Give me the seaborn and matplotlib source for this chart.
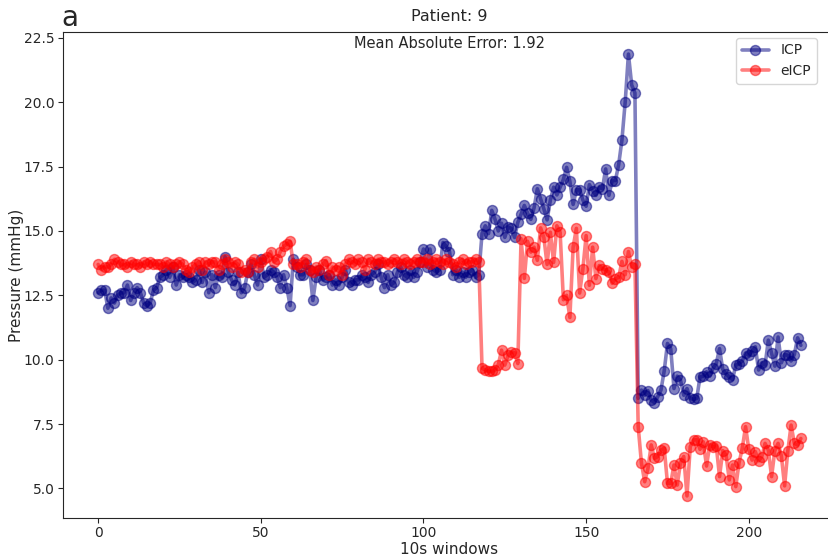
import numpy as np
import pandas as pd
import matplotlib
matplotlib.use("Agg")
import matplotlib.pyplot as plt
import seaborn as sns

# ---- data ----
icp = [
    12.6, 12.7, 12.7, 12.0, 12.4, 12.2, 12.5, 12.6, 12.6, 12.9,
    12.3, 12.6, 12.8, 12.6, 12.2, 12.1, 12.2, 12.7, 12.8, 13.2,
    13.3, 13.5, 13.2, 13.6, 12.9, 13.3, 13.2, 13.3, 13.2, 13.0,
    13.1, 13.5, 13.0, 13.4, 12.6, 13.3, 12.8, 13.3, 13.2, 14.0,
    13.4, 13.1, 12.9, 13.4, 12.6, 12.8, 13.4, 13.7, 13.3, 12.9,
    13.9, 13.2, 13.3, 13.5, 13.4, 13.2, 12.8, 13.3, 12.8, 12.1,
    13.9, 13.6, 13.3, 13.3, 13.7, 13.5, 12.3, 13.2, 13.5, 13.1,
    13.2, 13.3, 12.9, 13.1, 12.9, 13.2, 13.5, 13.0, 12.9, 13.1,
    13.1, 13.3, 13.2, 13.0, 13.3, 13.4, 13.7, 13.2, 12.8, 13.3,
    12.9, 13.0, 13.4, 13.6, 13.3, 13.2, 13.5, 13.2, 13.4, 13.8,
    14.3, 13.6, 14.3, 13.5, 13.4, 13.5, 14.55, 14.4, 14.2, 13.3,
    13.5, 13.2, 13.4, 13.2, 13.4, 13.5, 13.2, 13.3,
    14.9, 15.2, 14.9, 15.8, 15.45, 15.0, 15.3, 14.75, 15.15, 15.1,
    14.75, 15.33, 15.65, 15.99, 15.7, 15.45, 15.9, 16.64, 16.25, 15.86,
    15.43, 16.2, 16.7, 16.4, 16.7, 17.0, 17.47, 16.93, 16.03, 16.6,
    16.6, 16.2, 15.96, 16.8, 16.57, 16.38, 16.7, 16.64, 17.41, 16.38,
    16.96, 16.96, 17.58, 18.53, 20.0, 21.87, 20.67, 20.36,
    8.5, 8.82, 8.62, 8.8, 8.43, 8.33, 8.56, 8.82, 9.57, 10.63,
    10.43, 8.88, 9.36, 9.2, 8.62, 8.88, 8.5, 8.46, 8.5, 9.33,
    9.36, 9.53, 9.36, 9.66, 9.85, 10.43, 9.62, 9.45, 9.33, 9.23,
    9.79, 9.85, 9.95, 10.26, 10.17, 10.33, 10.5, 9.6, 9.88, 9.79,
    10.76, 10.26, 9.75, 10.88, 9.88, 10.2, 10.17, 9.95, 10.2, 10.85,
    10.56,
]

eicp = [
    13.7, 13.5, 13.6, 13.6, 13.7, 13.9, 13.8, 13.7, 13.7, 13.6,
    13.8, 13.7, 13.7, 13.6, 13.8, 13.7, 13.8, 13.7, 13.7, 13.7,
    13.6, 13.8, 13.7, 13.6, 13.7, 13.8, 13.7, 13.5, 13.4, 13.6,
    13.7, 13.8, 13.5, 13.8, 13.7, 13.8, 13.8, 13.5, 13.7, 13.9,
    13.8, 13.6, 13.8, 13.7, 13.4, 13.5, 13.4, 13.8, 13.9, 13.6,
    13.8, 13.9, 14.0, 14.2, 13.8, 13.9, 14.2, 14.4, 14.5, 14.6,
    13.7, 13.7, 13.6, 13.8, 13.9, 13.5, 13.4, 13.6, 13.5, 13.7,
    13.85, 13.3, 13.6, 13.5, 13.6, 13.3, 13.7, 13.9, 13.8, 13.7,
    13.9, 13.8, 13.5, 13.9, 13.8, 13.7, 13.9, 13.8, 13.8, 13.7,
    13.8, 13.9, 13.8, 13.7, 13.9, 13.8, 13.7, 13.8, 13.9, 13.8,
    13.8, 13.9, 13.7, 13.8, 13.9, 13.8, 13.7, 13.9, 13.8, 13.7,
    13.6, 13.8, 13.9, 13.7, 13.8, 13.8, 13.9, 13.8,
    9.67, 9.6, 9.55, 9.55, 9.6, 9.8, 10.37, 9.79, 10.17, 10.3,
    10.27, 9.85, 14.7, 13.16, 14.6, 14.18, 14.37, 13.86, 15.12, 14.75,
    13.7, 14.95, 13.78, 15.2, 14.95, 12.33, 12.5, 11.64, 14.37, 15.1,
    12.59, 13.53, 14.82, 12.89, 14.37, 13.15, 13.66, 13.53, 13.5, 13.4,
    12.97, 13.15, 13.2, 13.82, 13.3, 14.2, 13.6, 13.7,
    7.4, 5.98, 5.26, 5.78, 6.69, 6.17, 6.24, 6.49, 6.56, 5.2,
    5.2, 5.91, 5.13, 6.0, 6.24, 4.71, 6.62, 6.88, 6.9, 6.52,
    6.81, 5.87, 6.69, 6.62, 6.65, 5.46, 6.47, 6.3, 5.33, 5.91,
    5.07, 6.0, 6.56, 7.4, 6.52, 6.1, 6.43, 6.07, 6.24, 6.75,
    6.49, 5.46, 6.47, 6.75, 6.27, 5.1, 6.47, 7.46, 6.75, 6.69,
    6.94,
]

windows = list(range(len(icp)))

title = "Patient: 9"
mae_text = "Mean Absolute Error: 1.92"
panel_label = "a"
x_label = "10s windows"
y_label = "Pressure (mmHg)"

df = pd.DataFrame({"window": windows, "ICP": icp, "eICP": eicp})

sns.set_style("ticks")
plt.rcParams["font.family"] = ["DejaVu Sans"]

fig = plt.figure(figsize=(8.29, 5.56), dpi=100)
ax = fig.add_axes([63 / 829, (556 - 518) / 556, 773 / 829, (518 - 32) / 556])

line_kw = dict(marker="o", linewidth=2.6, markersize=7.2, alpha=0.5,
               markeredgewidth=1.0)
sns.lineplot(data=df, x="window", y="ICP", ax=ax, color="navy",
             markeredgecolor="navy", label="ICP", **line_kw)
sns.lineplot(data=df, x="window", y="eICP", ax=ax, color="red",
             markeredgecolor="red", label="eICP", **line_kw)

ax.set_title(title, fontsize=11.5, pad=8)
ax.text(0.5, 0.992, mae_text, transform=ax.transAxes, ha="center",
        va="top", fontsize=10.5)
fig.text(70 / 829, 1 - 18 / 556, panel_label, fontsize=20, va="center",
         ha="center")
ax.set_xlabel(x_label, fontsize=11, labelpad=1)
ax.set_ylabel(y_label, fontsize=11, labelpad=0)
ax.tick_params(labelsize=10, pad=2.5, length=3.5)

ax.legend(loc="upper right", bbox_to_anchor=(0.975, 0.988),
          borderaxespad=0, fontsize=10)

fig.savefig("out.png", dpi=100)
